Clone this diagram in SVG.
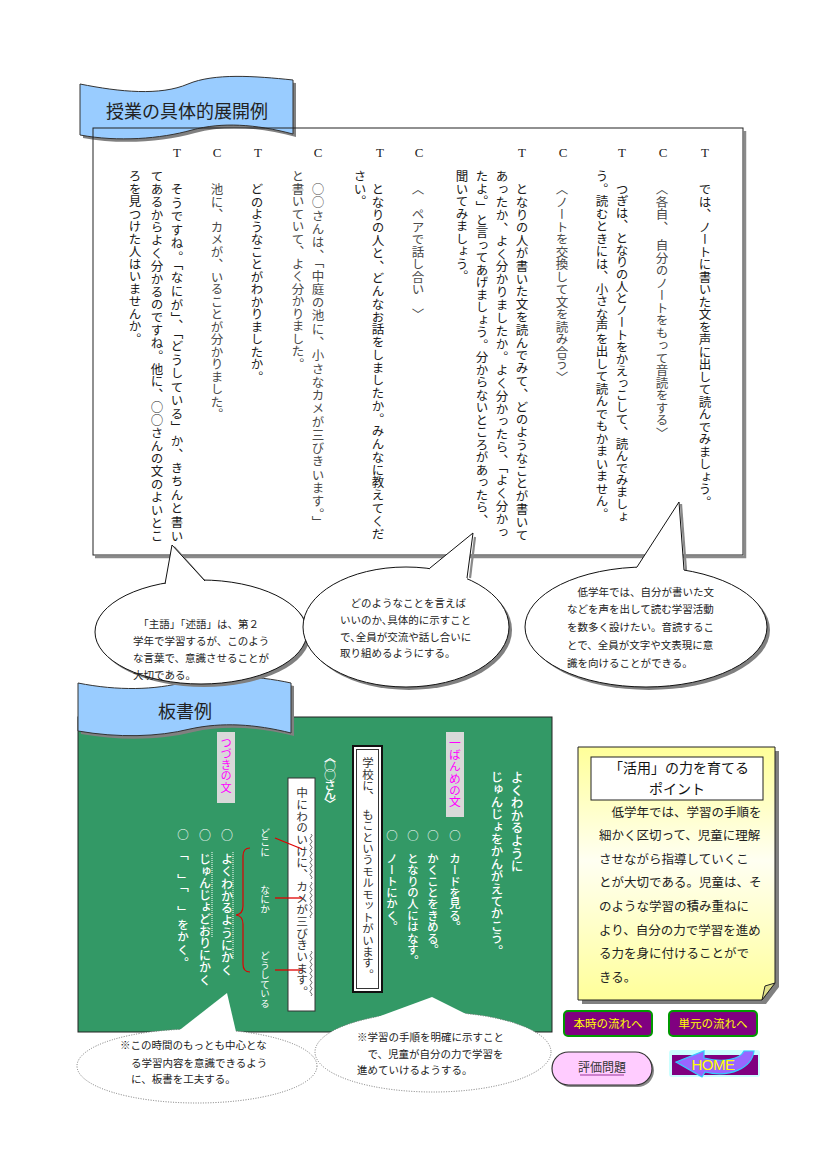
<svg xmlns="http://www.w3.org/2000/svg" width="827" height="1169" viewBox="0 0 827 1169">
<defs>
<style>
.j{font-family:"Noto Sans CJK JP","Noto Sans CJK SC",sans-serif;}
.v{writing-mode:vertical-rl;}
.tb{font-size:12.5px;fill:#1a1a1a;}
.cb{font-size:12.5px;fill:#4a4a4a;}
.lbl{font-family:"Liberation Serif",serif;font-size:13px;fill:#222;text-anchor:middle;}
.bub{font-size:10.5px;fill:#222;}
.ch{fill:#ffffff;}
.shd{fill:#808080;}
.edge{fill:none;stroke:#111;stroke-width:1;}
.sedge{fill:none;stroke:#8a8a8a;stroke-width:2.2;}
.btn{fill:#800080;stroke:#009900;stroke-width:2;}
.btxt{font-size:11.5px;fill:#ffff00;text-anchor:middle;}
</style>
<linearGradient id="note" x1="0" y1="0" x2="0" y2="1">
<stop offset="0" stop-color="#ffff99"/>
<stop offset="0.45" stop-color="#fffff2"/>
<stop offset="1" stop-color="#ffff99"/>
</linearGradient>
</defs>
<rect width="827" height="1169" fill="#ffffff"/>

<g id="banner-tenkai">
<path class="shd" transform="translate(3,3)" d="M80,84 C120,92 160,96 188,84 C214,73 255,76 293,80 L293,134 C255,124 222,122 192,130 C160,139 118,142 80,135 Z"/>
<path fill="#99ccff" stroke="#333" stroke-width="1" d="M80,84 C120,92 160,96 188,84 C214,73 255,76 293,80 L293,134 C255,124 222,122 192,130 C160,139 118,142 80,135 Z"/>
<text class="j" x="187" y="118" font-size="18" fill="#222" text-anchor="middle">授業の具体的展開例</text>
</g>

<g id="lesson-box">
<polyline points="745,131 745,557 95,557" fill="none" stroke="#8a8a8a" stroke-width="2.5"/>
<rect x="93" y="128" width="650" height="427" fill="none" stroke="#222" stroke-width="1"/>
<g id="speaker-labels">
<text class="lbl" x="705" y="157">T</text>
<text class="lbl" x="663" y="157">C</text>
<text class="lbl" x="622" y="157">T</text>
<text class="lbl" x="563" y="157">C</text>
<text class="lbl" x="522" y="157">T</text>
<text class="lbl" x="419" y="157">C</text>
<text class="lbl" x="380" y="157">T</text>
<text class="lbl" x="318" y="157">C</text>
<text class="lbl" x="258" y="157">T</text>
<text class="lbl" x="217" y="157">C</text>
<text class="lbl" x="177" y="157">T</text>
</g>
<g id="dialogue">
<text class="j v tb" x="705" y="183">では、ノートに書いた文を声に出して読んでみましょう。</text>
<text class="j v cb" x="662" y="183">〈各自、　自分のノートをもって音読をする〉</text>
<text class="j v tb" x="622" y="183" textLength="340" lengthAdjust="spacing">つぎは、となりの人とノートをかえっこして、読んでみましょ</text>
<text class="j v tb" x="602" y="170">う。読むときには、小さな声を出して読んでもかまいません。</text>
<text class="j v cb" x="562" y="183">〈ノートを交換して文を読み合う〉</text>
<text class="j v tb" x="522" y="183" textLength="358" lengthAdjust="spacing">となりの人が書いた文を読んでみて、どのようなことが書いて</text>
<text class="j v tb" x="502" y="170" textLength="368" lengthAdjust="spacing">あったか、よく分かりましたか。よく分かったら、「よく分かっ</text>
<text class="j v tb" x="482" y="170">たよ。」と言ってあげましょう。分からないところがあったら、</text>
<text class="j v tb" x="462" y="170">聞いてみましょう。</text>
<text class="j v cb" x="418" y="183">〈　ペアで話し合い　〉</text>
<text class="j v tb" x="378" y="183" textLength="357" lengthAdjust="spacing">となりの人と、どんなお話をしましたか。みんなに教えてくだ</text>
<text class="j v tb" x="360" y="170">さい。</text>
<text class="j v cb" x="318" y="183" textLength="345" lengthAdjust="spacing">○○さんは、「中庭の池に、小さなカメが三びきいます。」</text>
<text class="j v cb" x="298" y="170">と書いていて、よく分かりました。</text>
<text class="j v tb" x="257" y="183">どのようなことがわかりましたか。</text>
<text class="j v cb" x="217" y="183">池に、カメが、いることが分かりました。</text>
<text class="j v tb" x="177" y="183" textLength="359" lengthAdjust="spacing">そうですね。「なにが」、「どうしている」か、きちんと書い</text>
<text class="j v tb" x="157" y="170" textLength="372" lengthAdjust="spacing">てあるからよく分かるのですね。他に、○○さんの文のよいとこ</text>
<text class="j v tb" x="135" y="170">ろを見つけた人はいませんか。</text>
</g>
</g>

<g id="board-section">
<rect x="78" y="717" width="474" height="315" fill="#339966" stroke="#222" stroke-width="1"/>
<g id="banner-bansho">
<path class="shd" transform="translate(3,3)" d="M78,683 C118,691 155,690 185,682 C214,674 255,675 291,683 L291,733 C255,724 222,722 190,729 C158,737 118,738 78,731 Z"/>
<path fill="#99ccff" stroke="#333" stroke-width="1" d="M78,683 C118,691 155,690 185,682 C214,674 255,675 291,683 L291,733 C255,724 222,722 190,729 C158,737 118,738 78,731 Z"/>
<text class="j" x="185" y="718" font-size="18" fill="#222" text-anchor="middle">板書例</text>
</g>
<g id="board-title">
<text class="j v ch" x="517" y="771" font-size="12.6" font-weight="500">よくわかるように</text>
<text class="j v ch" x="497" y="771" font-size="12.4" font-weight="500">じゅんじょをかんがえてかこう。</text>
</g>
<g id="first-sentence">
<rect x="446" y="732" width="18" height="85" fill="#d9d9d9"/>
<text class="j v" x="455" y="737" font-size="11.8" fill="#ff00ff">一ばんめの文</text>
<text class="j v ch" x="455" y="830" font-size="11.4" font-weight="500">○　カードを見る。</text>
<text class="j v ch" x="433" y="830" font-size="11.4" font-weight="500">○　かくことをきめる。</text>
<text class="j v ch" x="413" y="830" font-size="11.4" font-weight="500">○　となりの人にはなす。</text>
<text class="j v ch" x="392" y="830" font-size="11.4" font-weight="500">○　ノートにかく。</text>
</g>
<g id="model-sentence">
<rect x="353" y="746" width="29" height="246" fill="#ffffff" stroke="#111" stroke-width="2"/>
<rect x="356.5" y="749.5" width="22" height="239" fill="none" stroke="#333" stroke-width="1"/>
<text class="j v" x="368" y="757" font-size="11.45" fill="#333">学校に、　もこというモルモットがいます。</text>
</g>
<g id="child-name">
<text class="j v ch" x="330" y="751" font-size="12" font-weight="500" textLength="59" lengthAdjust="spacing">〈○○さん〉</text>
</g>
<g id="child-sentence">
<rect x="288" y="778" width="27" height="233" fill="#ffffff" stroke="#333" stroke-width="1"/>
<text class="j v" x="302" y="787" font-size="11.7" fill="#333">中にわのいけに、カメが三びきいます。</text>
<path d="M311,834 q2,1.5 0,3 q-2,1.5 0,3 q2,1.5 0,3 q-2,1.5 0,3 q2,1.5 0,3 q-2,1.5 0,3 q2,1.5 0,3 q-2,1.5 0,3 q2,1.5 0,3 q-2,1.5 0,3 q2,1.5 0,3 q-2,1.5 0,3 q2,1.5 0,3 q-2,1.5 0,3 q2,1.5 0,3" fill="none" stroke="#444" stroke-width="0.8"/>
<path d="M311,882 q2,1.5 0,3 q-2,1.5 0,3 q2,1.5 0,3 q-2,1.5 0,3 q2,1.5 0,3 q-2,1.5 0,3 q2,1.5 0,3 q-2,1.5 0,3 q2,1.5 0,3 q-2,1.5 0,3 q2,1.5 0,3 q-2,1.5 0,3" fill="none" stroke="#444" stroke-width="0.8"/>
<path d="M311,951 q2,1.5 0,3 q-2,1.5 0,3 q2,1.5 0,3 q-2,1.5 0,3 q2,1.5 0,3 q-2,1.5 0,3 q2,1.5 0,3 q-2,1.5 0,3 q2,1.5 0,3 q-2,1.5 0,3 q2,1.5 0,3 q-2,1.5 0,3 q2,1.5 0,3 q-2,1.5 0,3 q2,1.5 0,3" fill="none" stroke="#444" stroke-width="0.8"/>
</g>
<g id="part-labels">
<text class="j v ch" x="265" y="828" font-size="9.7">どこに</text>
<text class="j v ch" x="265" y="885" font-size="9.7">なにか</text>
<text class="j v ch" x="265" y="951" font-size="9.5">どうしている</text>
</g>
<g id="next-sentence">
<rect x="217" y="732" width="18" height="71" fill="#d9d9d9"/>
<text class="j v" x="226" y="737" font-size="11.2" fill="#ff00ff">つづきの文</text>
<text class="j v ch" x="227" y="829" font-size="12" font-weight="500" textLength="147" lengthAdjust="spacing">○　よくわかるようにかく</text>
<text class="j v ch" x="205" y="829" font-size="12" font-weight="500" textLength="157" lengthAdjust="spacing">○　じゅんじょどおりにかく</text>
<text class="j v ch" x="183" y="829" font-size="11.5" font-weight="500" textLength="139" lengthAdjust="spacing">○　「　」「　」をかく。</text>
<line x1="233" y1="852" x2="233" y2="960" stroke="#ffffff" stroke-width="1" stroke-dasharray="1,1"/>
<line x1="212" y1="852" x2="212" y2="937" stroke="#ffffff" stroke-width="1" stroke-dasharray="1,1"/>
</g>
</g>

<g id="connectors">
<line x1="275" y1="838" x2="302" y2="849" stroke="#e00000" stroke-width="1.3"/>
<line x1="275" y1="898" x2="302" y2="898" stroke="#e00000" stroke-width="1.3"/>
<line x1="275" y1="970" x2="302" y2="970" stroke="#e00000" stroke-width="1.3"/>
<path d="M250,848 Q243,848 243,856 L243,906 Q243,914 236,915 Q243,916 243,924 L243,964 Q243,972 250,972" fill="none" stroke="#e00000" stroke-width="1.2"/>
</g>

<g id="callout-shugo">
<ellipse class="shd" cx="204" cy="635" rx="106" ry="52"/>
<polyline class="sedge" points="174,547 207,584"/>
<ellipse cx="201" cy="632" rx="106" ry="52" fill="#ffffff" stroke="#111" stroke-width="1"/>
<polygon points="172,545 165,584 165,592 205,592 205,581" fill="#ffffff"/>
<polyline class="edge" points="165,584 172,545 205,581"/>
<text class="j bub" x="133" y="628">　「主語」「述語」は、第２</text>
<text class="j bub" x="133" y="645">学年で学習するが、このよう</text>
<text class="j bub" x="133" y="662">な言葉で、意識させることが</text>
<text class="j bub" x="133" y="679">大切である。</text>
</g>

<g id="callout-gutaiteki">
<ellipse class="shd" cx="409" cy="630" rx="103" ry="60"/>
<polyline class="sedge" points="475,537 470,578"/>
<ellipse cx="406" cy="627" rx="103" ry="60" fill="#ffffff" stroke="#111" stroke-width="1"/>
<polygon points="473,533 430,568 430,585 467,585 467,578" fill="#ffffff"/>
<polyline class="edge" points="430,568 473,533 467,578"/>
<text class="j bub" x="340" y="607">　どのようなことを言えば</text>
<text class="j bub" x="340" y="624">いいのか､具体的に示すこと</text>
<text class="j bub" x="340" y="641">で､全員が交流や話し合いに</text>
<text class="j bub" x="340" y="657">取り組めるようにする。</text>
</g>

<g id="callout-ondoku">
<ellipse class="shd" cx="649" cy="630" rx="121" ry="60"/>
<polyline class="sedge" points="681,504 686,570"/>
<ellipse cx="646" cy="627" rx="121" ry="60" fill="#ffffff" stroke="#111" stroke-width="1"/>
<polygon points="679,502 637,567 637,580 684,580 684,570" fill="#ffffff"/>
<polyline class="edge" points="637,567 679,502 684,570"/>
<text class="j bub" x="567" y="596" font-size="10.9">　低学年では、自分が書いた文</text>
<text class="j bub" x="567" y="613" font-size="10.9">などを声を出して読む学習活動</text>
<text class="j bub" x="567" y="631" font-size="10.9">を数多く設けたい。音読するこ</text>
<text class="j bub" x="567" y="649" font-size="10.9">とで、全員が文字や文表現に意</text>
<text class="j bub" x="567" y="667" font-size="10.9">識を向けることができる。</text>
</g>

<g id="callout-chushin">
<ellipse cx="197" cy="1066" rx="120" ry="37" fill="#ffffff" stroke="#777" stroke-width="1" stroke-dasharray="1,1.5"/>
<polygon points="227,993 172,1036 237,1036" fill="#ffffff"/>
<text class="j bub" x="120" y="1049" font-size="11">※この時間のもっとも中心とな</text>
<text class="j bub" x="131" y="1067" font-size="11">る学習内容を意識できるよう</text>
<text class="j bub" x="131" y="1083" font-size="11">に、板書を工夫する。</text>
</g>

<g id="callout-tejun">
<ellipse cx="433" cy="1052" rx="118" ry="40" fill="#ffffff" stroke="#777" stroke-width="1" stroke-dasharray="1,1.5"/>
<polygon points="432,997 345,1029 490,1026" fill="#ffffff"/>
<text class="j bub" x="357" y="1041" font-size="11">※学習の手順を明確に示すこと</text>
<text class="j bub" x="357" y="1058" font-size="11">　で、児童が自分の力で学習を</text>
<text class="j bub" x="357" y="1074" font-size="11">進めていけるようする。</text>
</g>

<g id="point-note">
<path class="shd" transform="translate(4,4)" d="M578,747 H775 V983 L762,1000 H578 Z"/>
<path d="M578,747 H775 V983 L762,1000 H578 Z" fill="url(#note)" stroke="#222" stroke-width="1"/>
<path d="M762,1000 L765,986 L775,983 Z" fill="#e0e08a" stroke="#222" stroke-width="1"/>
<rect x="591" y="757" width="172" height="43" fill="#ffffff" stroke="#222" stroke-width="1"/>
<text class="j" x="679" y="773" font-size="14" fill="#111" text-anchor="middle">「活用」の力を育てる</text>
<text class="j" x="677" y="794" font-size="14" fill="#111" text-anchor="middle">ポイント</text>
<g class="j" font-size="12.5" fill="#222">
<text x="599" y="816.5">　低学年では、学習の手順を</text>
<text x="599" y="840">細かく区切って、児童に理解</text>
<text x="599" y="863.5">させながら指導していくこ</text>
<text x="599" y="887">とが大切である。児童は、そ</text>
<text x="599" y="911">のような学習の積み重ねに</text>
<text x="599" y="934.5">より、自分の力で学習を進め</text>
<text x="599" y="958">る力を身に付けることがで</text>
<text x="599" y="981.5">きる。</text>
</g>
</g>

<g id="btn-honji">
<rect class="btn" x="564" y="1011" width="88" height="25" rx="4"/>
<text class="j btxt" x="608" y="1028">本時の流れへ</text>
</g>
<g id="btn-tangen">
<rect class="btn" x="669" y="1011" width="88" height="25" rx="4"/>
<text class="j btxt" x="713" y="1028">単元の流れへ</text>
</g>
<g id="btn-hyoka">
<rect x="554" y="1054" width="100" height="33" rx="16.5" fill="#888"/>
<rect x="552" y="1052" width="100" height="33" rx="16.5" fill="#ffccff" stroke="#333" stroke-width="1.2"/>
<text class="j" x="602" y="1072" font-size="12" fill="#333" text-anchor="middle">評価問題</text>
<line x1="580" y1="1075" x2="624" y2="1075" stroke="#993399" stroke-width="1.2"/>
</g>
<g id="btn-home">
<rect x="669" y="1050" width="91" height="27" rx="3" fill="#ccffff"/>
<rect x="672" y="1055" width="86" height="20" fill="#800080"/>
<path d="M754,1051 C752,1068 730,1078 705,1072 L702,1077 L676,1062 L704,1051 L704,1058 C725,1063 740,1059 744,1051 Z" fill="#9966ff" stroke="#33ccff" stroke-width="1.2"/>
<text x="713" y="1070" font-family="Liberation Sans, sans-serif" font-size="15" fill="#ffff00" text-anchor="middle" letter-spacing="-0.5">HOME</text>
</g>
</svg>
